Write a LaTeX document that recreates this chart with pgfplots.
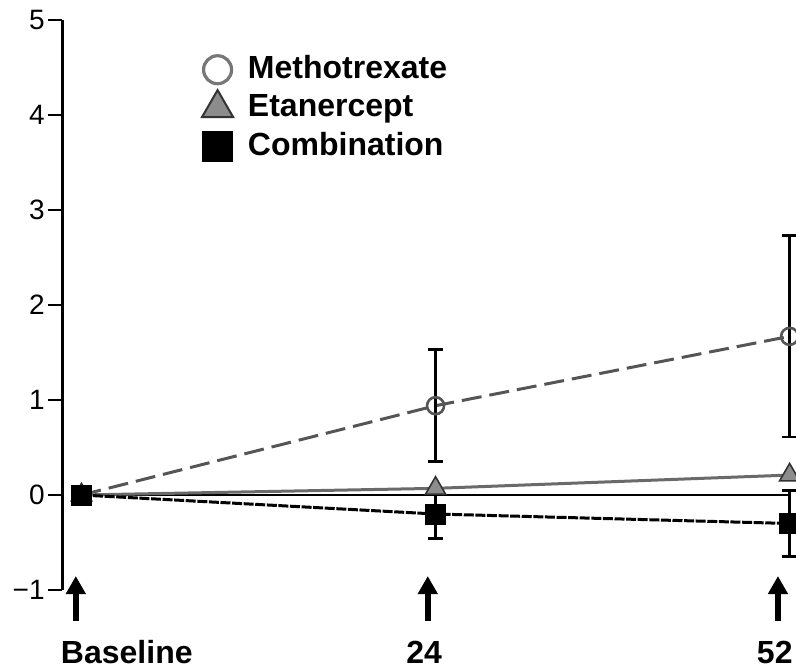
\documentclass[border=0pt]{standalone}
\usepackage{fontspec}
\setmainfont{Liberation Sans}
\usepackage{pgfplots}
\pgfplotsset{compat=1.18}
\usetikzlibrary{arrows.meta,calc}
\definecolor{mtxline}{HTML}{555555}
\definecolor{etaline}{HTML}{6A6A6A}
\definecolor{etafill}{HTML}{8C8C8C}

\begin{document}
\begin{tikzpicture}
\begin{axis}[
    scale only axis,
    width=367pt, height=285pt,
    xmin=-0.055, xmax=2.018,
    ymin=-1, ymax=5,
    axis x line=none,
    axis y line*=left,
    y axis line style={line width=1.5pt},
    ytick={-1,0,1,2,3,4,5},
    yticklabels={−1,0,1,2,3,4,5},
    ytick style={line width=1.4pt,black},
    tick align=outside,
    major tick length=7pt,
    yticklabel style={font=\fontsize{14}{16}\selectfont,inner sep=1.5pt},
    clip=false,
    legend style={at={(axis cs:0.32,4.725)},anchor=north west,draw=none,fill=white,
        font=\bfseries\fontsize{16}{19}\selectfont,row sep=0pt,
        nodes={inner sep=2pt,text height=12pt,text depth=3.2pt}},
    legend cell align=left,
    legend image code/.code={\draw[#1] plot coordinates {(8pt,0pt)}; \path (0pt,0pt) (21pt,0pt);},
    error bars/y dir=both,
    error bars/y explicit,
    error bars/error mark=-,
    error bars/error mark options={solid,rotate=90,line width=1.4pt,mark size=3.75pt,black},
    error bars/error bar style={solid,line width=1.4pt,black},
]
% legend
\addlegendimage{only marks,mark=o,mark size=7pt,mark options={draw=mtxline!80,fill=white,line width=1.6pt}}
\addlegendentry{Methotrexate}
\addlegendimage{only marks,mark=triangle*,mark size=9pt,mark options={draw=black!80,fill=etafill,line width=1pt}}
\addlegendentry{Etanercept}
\addlegendimage{only marks,mark=square*,mark size=7.5pt,mark options={draw=black,fill=black}}
\addlegendentry{Combination}

% zero reference line
\addplot[black,line width=1pt,forget plot] coordinates {(0,0) (2,0)};

% Methotrexate
\addplot[mtxline,line width=1.5pt,dash pattern=on 10pt off 4pt,
    mark=o,mark size=4.25pt,mark options={solid,draw=mtxline,fill=white,line width=1.3pt},forget plot]
    coordinates {(0,0) +- (0,0) (1,0.94) +- (0,0.59) (2,1.67) +- (0,1.06)};

% Etanercept
\addplot[etaline,line width=1.5pt,
    mark=triangle*,mark size=5.8pt,mark options={solid,draw=black!80,fill=etafill,line width=0.8pt},forget plot]
    coordinates {(0,0) (1,0.07) (2,0.21)};

% Combination
\addplot[black,line width=1.5pt,dash pattern=on 5pt off 0.8pt,
    mark=square*,mark size=4.5pt,mark options={solid,fill=black},forget plot]
    coordinates {(0,0) +- (0,0) (1,-0.20) +- (0,0.26) (2,-0.30) +- (0,0.345)};

% arrows and time-point labels
\draw[line width=3.2pt,-{Triangle[length=9pt,width=9.5pt]}] (axis cs:-0.016,-1.326) -- (axis cs:-0.016,-0.853);
\draw[line width=3.2pt,-{Triangle[length=9pt,width=9.5pt]}] (axis cs:0.978,-1.326) -- (axis cs:0.978,-0.853);
\draw[line width=3.2pt,-{Triangle[length=9pt,width=9.5pt]}] (axis cs:1.967,-1.326) -- (axis cs:1.967,-0.853);
\node[font=\bfseries\fontsize{16}{19}\selectfont,anchor=base] at (axis cs:0.128,-1.77) {Baseline};
\node[font=\bfseries\fontsize{16}{19}\selectfont,anchor=base] at (axis cs:0.968,-1.77) {24};
\node[font=\bfseries\fontsize{16}{19}\selectfont,anchor=base] at (axis cs:1.958,-1.77) {52};
\coordinate (bl) at (rel axis cs:0,0);
\coordinate (tr) at (rel axis cs:1,1);
\end{axis}
\pgfresetboundingbox
\path ($(bl)+(-31pt,-39pt)$) rectangle ($(tr)+(0pt,10pt)$);
\end{tikzpicture}
\end{document}
